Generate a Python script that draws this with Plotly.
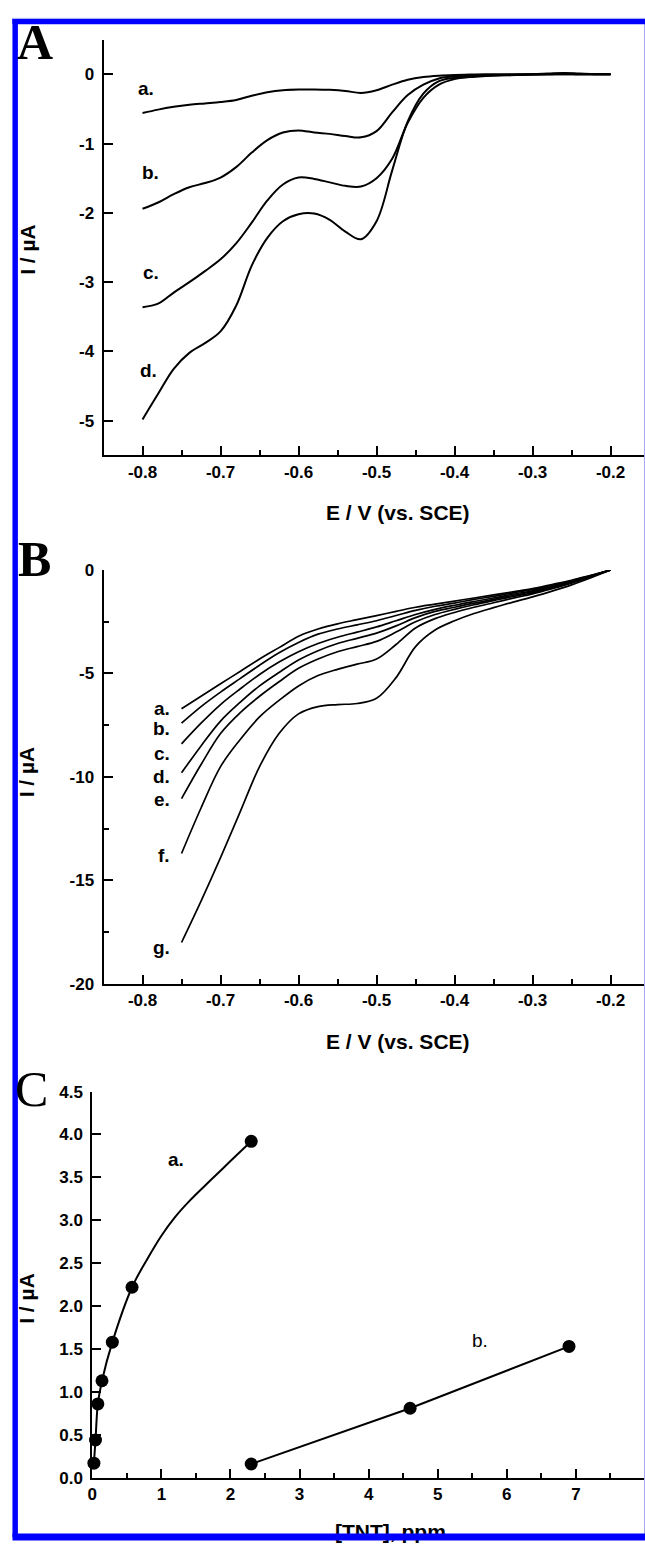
import plotly.graph_objects as go

W, H = 645, 1548

# ---------------- Panel A data (E / V vs I / uA) ----------------
A_E = [-0.80, -0.78, -0.76, -0.74, -0.72, -0.70, -0.68, -0.66, -0.64, -0.62,
       -0.60, -0.58, -0.56, -0.54, -0.52, -0.50, -0.48, -0.46, -0.44, -0.42,
       -0.40, -0.38, -0.36, -0.34, -0.32, -0.30, -0.28, -0.26, -0.24, -0.22, -0.20]
A_a = [-0.56, -0.51, -0.47, -0.44, -0.42, -0.40, -0.37, -0.31, -0.26, -0.23,
       -0.22, -0.22, -0.225, -0.24, -0.27, -0.23, -0.15, -0.08, -0.04, -0.02,
       -0.01, -0.005, 0.0, 0.0, 0.0, 0.0, 0.01, 0.02, 0.01, 0.0, 0.0]
A_b = [-1.94, -1.85, -1.73, -1.63, -1.57, -1.49, -1.34, -1.13, -0.95, -0.84,
       -0.81, -0.84, -0.86, -0.89, -0.91, -0.82, -0.55, -0.30, -0.15, -0.06,
       -0.03, -0.02, -0.01, -0.01, -0.005, 0.0, 0.0, 0.01, 0.0, 0.0, 0.0]
A_c = [-3.36, -3.31, -3.15, -3.00, -2.84, -2.67, -2.44, -2.14, -1.82, -1.59,
       -1.49, -1.51, -1.56, -1.61, -1.62, -1.50, -1.22, -0.70, -0.34, -0.15,
       -0.07, -0.04, -0.025, -0.015, -0.01, -0.005, 0.0, 0.0, 0.0, 0.0, 0.0]
A_d = [-4.98, -4.61, -4.25, -4.02, -3.88, -3.71, -3.34, -2.76, -2.36, -2.12,
       -2.02, -2.01, -2.10, -2.27, -2.38, -2.12, -1.39, -0.68, -0.28, -0.10,
       -0.05, -0.03, -0.02, -0.015, -0.01, -0.005, 0.0, 0.0, 0.0, 0.0, 0.0]
A_labels = ["a.", "b.", "c.", "d."]
A_label_E = [-0.8085, -0.8034, -0.8025, -0.806]
A_label_I = [-0.20, -1.42, -2.86, -4.28]

# ---------------- Panel B data ----------------
B_E = [-0.75, -0.725, -0.70, -0.675, -0.65, -0.625, -0.60, -0.575, -0.55, -0.525,
       -0.50, -0.475, -0.45, -0.425, -0.40, -0.375, -0.35, -0.325, -0.30, -0.275,
       -0.25, -0.225, -0.20]
B_a = [-6.7, -6.1, -5.5, -4.9, -4.3, -3.75, -3.2, -2.85, -2.6, -2.4, -2.2, -2.0,
       -1.8, -1.65, -1.5, -1.35, -1.2, -1.05, -0.9, -0.7, -0.5, -0.25, 0.0]
B_b = [-7.4, -6.6, -5.9, -5.25, -4.6, -4.0, -3.5, -3.1, -2.85, -2.65, -2.45, -2.2,
       -1.95, -1.75, -1.6, -1.42, -1.27, -1.1, -0.95, -0.75, -0.52, -0.27, 0.0]
B_c = [-8.4, -7.4, -6.5, -5.75, -5.05, -4.45, -3.95, -3.55, -3.25, -3.0, -2.75, -2.45,
       -2.15, -1.9, -1.7, -1.52, -1.35, -1.17, -1.0, -0.8, -0.55, -0.28, 0.0]
B_d = [-9.8, -8.5, -7.3, -6.4, -5.6, -4.95, -4.35, -3.9, -3.55, -3.3, -3.05, -2.7,
       -2.3, -2.0, -1.8, -1.6, -1.42, -1.23, -1.05, -0.83, -0.58, -0.3, 0.0]
B_e = [-11.05, -9.4, -7.9, -6.9, -6.1, -5.4, -4.75, -4.3, -3.95, -3.7, -3.45, -3.0,
       -2.5, -2.15, -1.9, -1.68, -1.48, -1.28, -1.1, -0.87, -0.6, -0.31, 0.0]
B_f = [-13.7, -11.5, -9.5, -8.2, -7.1, -6.3, -5.6, -5.1, -4.8, -4.55, -4.3, -3.6,
       -2.8, -2.35, -2.05, -1.8, -1.58, -1.36, -1.15, -0.9, -0.63, -0.32, 0.0]
B_g = [-18.0, -16.0, -13.9, -11.7, -9.5, -7.9, -6.95, -6.6, -6.5, -6.45, -6.2, -5.2,
       -3.7, -2.9, -2.45, -2.1, -1.82, -1.55, -1.3, -1.02, -0.72, -0.37, 0.0]
B_labels = ["a.", "b.", "c.", "d.", "e.", "f.", "g."]
B_label_E = -0.7623
B_label_I = [-6.67, -7.68, -8.85, -9.99, -11.07, -13.78, -18.23]

# ---------------- Panel C data ----------------
C_a_ppm = [0.023, 0.046, 0.080, 0.14, 0.29, 0.575, 2.30]
C_a_I = [0.17, 0.44, 0.86, 1.13, 1.58, 2.22, 3.92]
# fitted curve through series a
C_a_fit_ppm = [0.023, 0.046, 0.080, 0.14, 0.29, 0.575, 0.79, 1.0, 1.18, 1.4, 1.73, 2.0, 2.30]
C_a_fit_I = [0.17, 0.44, 0.86, 1.13, 1.58, 2.22, 2.54, 2.82, 3.02, 3.22, 3.48, 3.69, 3.92]
C_b_ppm = [2.30, 4.60, 6.90]
C_b_I = [0.16, 0.81, 1.53]

# ---------------- tick labels ----------------
E_ticks = [-0.8, -0.7, -0.6, -0.5, -0.4, -0.3, -0.2]
E_ticktext = ["-0.8", "-0.7", "-0.6", "-0.5", "-0.4", "-0.3", "-0.2"]
E_minor = [-0.75, -0.65, -0.55, -0.45, -0.35, -0.25]
A_yticks = [0, -1, -2, -3, -4, -5]
A_ytext = ["0", "-1", "-2", "-3", "-4", "-5"]
B_yticks = [0, -5, -10, -15, -20]
B_ytext = ["0", "-5", "-10", "-15", "-20"]
B_yminor = [-2.5, -7.5, -12.5, -17.5]
C_xticks = [0, 1, 2, 3, 4, 5, 6, 7, 8]
C_xtext = [str(v) for v in C_xticks]
C_xminor = [0.5, 1.5, 2.5, 3.5, 4.5, 5.5, 6.5, 7.5]
C_yticks = [0.0, 0.5, 1.0, 1.5, 2.0, 2.5, 3.0, 3.5, 4.0, 4.5]
C_ytext = ["%.1f" % v for v in C_yticks]


def px(x):
    return x / W


def py(y):
    return 1 - y / H


SANS = "Liberation Sans, Arial, sans-serif"
SERIF = "Liberation Serif, Times New Roman, serif"
tickfont = dict(family=SANS, size=17, color="black", weight="bold")


def axis(**kw):
    d = dict(showline=True, linecolor="black", linewidth=2, ticks="inside",
             ticklen=9, tickwidth=2, tickcolor="black", showgrid=False,
             zeroline=False, tickfont=tickfont, tickmode="array", fixedrange=True)
    d.update(kw)
    return d


fig = go.Figure()
line = dict(color="black", width=2, shape="spline")
for yy in [A_a, A_b, A_c, A_d]:
    fig.add_trace(go.Scatter(x=A_E, y=yy, mode="lines", line=line,
                             xaxis="x", yaxis="y", hoverinfo="skip"))
for yy in [B_a, B_b, B_c, B_d, B_e, B_f, B_g]:
    fig.add_trace(go.Scatter(x=B_E, y=yy, mode="lines",
                             line=dict(color="black", width=1.7, shape="spline"),
                             xaxis="x2", yaxis="y2", hoverinfo="skip"))
fig.add_trace(go.Scatter(x=C_a_fit_ppm, y=C_a_fit_I, mode="lines",
                         line=dict(color="black", width=2, shape="spline"),
                         cliponaxis=False, xaxis="x3", yaxis="y3"))
fig.add_trace(go.Scatter(x=C_a_ppm, y=C_a_I, mode="markers",
                         marker=dict(color="black", size=13),
                         cliponaxis=False, xaxis="x3", yaxis="y3"))
fig.add_trace(go.Scatter(x=C_b_ppm, y=C_b_I, mode="lines+markers",
                         line=dict(color="black", width=2),
                         marker=dict(color="black", size=13),
                         cliponaxis=False, xaxis="x3", yaxis="y3"))

E_range = [-0.85, -0.8 + (W - 138.7) / 786.0]
x_minor = dict(ticks="inside", ticklen=5, tickwidth=2, tickcolor="black",
               tickmode="array", tickvals=E_minor)

fig.update_layout(
    width=W, height=H, margin=dict(l=0, r=0, t=0, b=0),
    paper_bgcolor="white", plot_bgcolor="white", showlegend=False,
    font=dict(family=SANS, color="black"),
    xaxis=axis(domain=[px(99.3), 1], range=E_range, anchor="y",
               tickvals=E_ticks, ticktext=E_ticktext, minor=x_minor),
    yaxis=axis(domain=[py(452), py(31)], range=[-5.5, 0.5], anchor="x",
               tickvals=A_yticks, ticktext=A_ytext, ticklabelstandoff=4),
    xaxis2=axis(domain=[px(99.3), 1], range=E_range, anchor="y2",
                tickvals=E_ticks, ticktext=E_ticktext, minor=x_minor),
    yaxis2=axis(domain=[py(987), py(568)], range=[-20, 0], anchor="x2",
                tickvals=B_yticks, ticktext=B_ytext, ticklabelstandoff=4,
                minor=dict(ticks="inside", ticklen=5, tickwidth=2, tickcolor="black",
                           tickmode="array", tickvals=B_yminor)),
    xaxis3=axis(domain=[px(88), 1], range=[0, 8], anchor="y3",
                tickvals=C_xticks, ticktext=C_xtext,
                minor=dict(ticks="inside", ticklen=5, tickwidth=2, tickcolor="black",
                           tickmode="array", tickvals=C_xminor)),
    yaxis3=axis(domain=[py(1487), py(1096)], range=[0, 4.5], anchor="x3",
                tickvals=C_yticks, ticktext=C_ytext, ticklabelstandoff=4),
)

ann = []
# panel letters
ann.append(dict(text="<b>A</b>", x=px(30.5), y=py(33.4), font=dict(family=SERIF, size=50)))
ann.append(dict(text="<b>B</b>", x=px(30), y=py(557), font=dict(family=SERIF, size=50)))
ann.append(dict(text="C", x=px(26.5), y=py(1093.5), font=dict(family=SERIF, size=50)))
for a in ann:
    a.update(xref="paper", yref="paper", xanchor="center", yanchor="middle", showarrow=False)

lab_font = dict(family=SANS, size=19, color="black", weight="bold")
for t, xv, yv in zip(A_labels, A_label_E, A_label_I):
    ann.append(dict(text=t, x=xv, y=yv, xref="x", yref="y", xanchor="left",
                    yanchor="middle", showarrow=False, font=lab_font))
for t, yv in zip(B_labels, B_label_I):
    ann.append(dict(text=t, x=B_label_E, y=yv, xref="x2", yref="y2", xanchor="right",
                    yanchor="middle", showarrow=False, font=lab_font))
ann.append(dict(text="a.", x=1.063, y=3.71, xref="x3", yref="y3", xanchor="left",
                yanchor="middle", showarrow=False, font=lab_font))
ann.append(dict(text="b.", x=5.46, y=1.6, xref="x3", yref="y3", xanchor="left",
                yanchor="middle", showarrow=False,
                font=dict(family=SANS, size=19, color="black")))

title_font = dict(family=SANS, size=21, color="black", weight="bold")
for (tx, ty, t) in [(396, 510, "E / V (vs. SCE)"), (396, 1045, "E / V (vs. SCE)"),
                    (389, 1541, "[TNT], ppm")]:
    ann.append(dict(text=t, x=px(tx), y=py(ty), xref="paper", yref="paper",
                    xanchor="center", yanchor="middle", showarrow=False, font=title_font))
for ty in [243, 772, 1305]:
    ann.append(dict(text="I / µA", x=px(22), y=py(ty), xref="paper", yref="paper",
                    xanchor="center", yanchor="middle", textangle=-90,
                    showarrow=False, font=title_font))
# bottom blue frame band (drawn last so it covers the clipped title)
ann.append(dict(text=" ", x=px(7.5), y=py(1542.5), xref="paper", yref="paper",
                xanchor="left", yanchor="top", showarrow=False, width=W - 7.5,
                height=6, bgcolor="#0000ff", borderpad=0, font=dict(size=2)))
fig.update_layout(annotations=ann)

BLUE = "#0000ff"
LAV = "#a8a8ee"
shapes = [
    dict(type="line", x0=px(7), x1=1, y0=py(9.5), y1=py(9.5), line=dict(color=LAV, width=1)),
    dict(type="line", x0=px(644.5), x1=px(644.5), y0=py(9.5), y1=0, line=dict(color=LAV, width=1)),
    dict(type="rect", x0=px(7.5), x1=1, y0=py(15.5), y1=py(10), fillcolor=BLUE,
         line=dict(width=0)),
    dict(type="rect", x0=px(7.5), x1=px(13), y0=py(1547), y1=py(10), fillcolor=BLUE,
         line=dict(width=0)),
]
for s in shapes:
    s.update(xref="paper", yref="paper", layer="above")
fig.update_layout(shapes=shapes)

fig.write_html("out.html", config={"displayModeBar": False},
               post_script="document.body.style.margin='0';")
